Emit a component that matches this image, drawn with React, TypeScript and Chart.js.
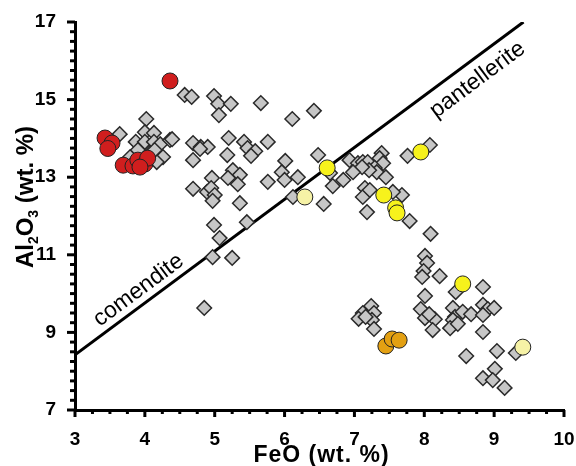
import React, { useEffect, useRef } from 'react';
import { Chart, registerables } from 'chart.js';

Chart.register(...registerables);

// Gray diamonds (whole-rock / glass compilation)
const grayFeO = [
  4.57, 4.67, 4.99, 5.05, 5.23, 5.06, 5.66, 6.11, 6.42, 4.02, 3.64, 4.00, 4.13, 3.87, 4.00, 4.13,
  4.22, 4.36, 4.69, 4.80, 4.90, 4.69, 4.26, 4.17, 3.79, 5.20, 5.42, 5.47, 5.58, 5.52, 5.76, 5.18,
  6.01, 6.48, 5.26, 5.36, 4.96, 5.96, 6.19, 4.69, 4.89, 4.95, 5.00, 4.97, 5.19, 5.33, 5.76, 6.00,
  5.36, 4.99, 5.46, 5.07, 4.97, 5.25, 4.85, 6.12, 6.56, 6.69, 6.93, 7.05, 7.12, 7.19, 7.39, 7.36,
  7.41, 7.29, 7.32, 7.45, 7.21, 7.11, 6.98, 6.84, 6.65, 7.15, 7.12, 7.22, 7.68, 7.55, 7.18, 7.79,
  8.09, 7.76, 8.08, 8.01, 8.04, 7.99, 7.97, 8.22, 8.45, 8.84, 8.01, 7.95, 8.01, 8.15, 8.12, 8.07,
  8.41, 8.44, 8.55, 8.67, 8.41, 8.37, 8.48, 8.84, 8.91, 9.00, 8.84, 8.84, 7.24, 7.12, 7.06, 7.28,
  7.25, 7.28, 7.16, 8.60, 9.04, 9.01, 8.84, 8.98, 9.15, 9.31, 4.39, 4.79, 3.90, 4.07, 4.14,
];
const grayAl2O3 = [
  15.12, 15.07, 15.09, 14.89, 14.89, 14.60, 14.91, 14.50, 14.71, 14.50, 14.11, 14.16, 14.14, 13.91, 13.91, 13.91,
  13.85, 13.96, 13.88, 13.78, 13.78, 13.44, 13.52, 13.39, 13.52, 14.01, 13.91, 13.75, 13.67, 13.55, 13.91, 13.57,
  13.42, 13.57, 13.18, 13.06, 12.98, 13.13, 13.00, 12.70, 12.62, 12.72, 12.54, 12.39, 12.98, 12.82, 12.88, 12.93,
  12.33, 11.77, 11.84, 11.43, 10.94, 10.92, 9.63, 12.49, 12.31, 12.77, 13.44, 13.36, 13.39, 13.39, 13.62, 13.49,
  13.36, 13.24, 13.13, 13.00, 13.18, 13.26, 13.13, 12.93, 13.11, 12.72, 12.49, 12.67, 12.54, 12.62, 12.10, 11.87,
  11.54, 13.55, 13.83, 10.97, 10.79, 10.58, 10.43, 10.45, 10.04, 10.17, 9.94, 9.60, 9.37, 9.34, 9.06, 9.47,
  9.63, 9.40, 9.53, 9.47, 9.32, 9.11, 9.22, 9.71, 9.60, 9.63, 9.45, 9.01, 9.68, 9.50, 9.35, 9.50,
  9.32, 9.09, 9.40, 8.39, 8.52, 8.06, 7.82, 7.77, 7.57, 8.47, 13.98, 13.73, 13.70, 13.62, 13.70,
];

// Red circles
const redFeO = [4.36, 3.43, 3.53, 3.47, 3.69, 3.83, 3.90, 4.00, 4.04, 3.93];
const redAl2O3 = [15.48, 14.01, 13.88, 13.74, 13.31, 13.29, 13.44, 13.34, 13.49, 13.26];

// Yellow circles
const yellowFeO = [6.61, 7.42, 7.59, 7.61, 7.95, 8.55];
const yellowAl2O3 = [13.24, 12.54, 12.21, 12.08, 13.65, 10.25];

// Pale yellow circles
const paleFeO = [6.29, 9.41];
const paleAl2O3 = [12.49, 8.62];

// Orange circles
const orangeFeO = [7.45, 7.54, 7.64];
const orangeAl2O3 = [8.65, 8.83, 8.80];

// Comendite / pantellerite boundary
const boundaryFeO = [3, 9.42];
const boundaryAl2O3 = [8.42, 17];

const xMin = 3, xMax = 10, yMin = 7, yMax = 17;
const xTitle = 'FeO (wt. %)';
const fieldLabels = ['comendite', 'pantellerite'];

const pts = (xs: number[], ys: number[]) => xs.map((x, i) => ({ x, y: ys[i] }));

export default function App() {
  const ref = useRef<HTMLCanvasElement>(null);

  useEffect(() => {
    if (!ref.current) return;
    const FONT = '"Liberation Sans", Arial, sans-serif';

    const decor = {
      id: 'decor',
      afterDraw(chart: any) {
        const ctx = chart.ctx as CanvasRenderingContext2D;
        const xs = chart.scales.x;
        const ys = chart.scales.y;
        const { left, bottom } = chart.chartArea;
        ctx.save();
        ctx.strokeStyle = '#000';
        ctx.lineWidth = 3;
        ctx.lineCap = 'butt';
        // x ticks
        for (let k = 0; k <= (xMax - xMin) * 4; k++) {
          const v = xMin + k * 0.25;
          const px = xs.getPixelForValue(v);
          const major = k % 4 === 0;
          ctx.beginPath();
          ctx.moveTo(px, bottom);
          ctx.lineTo(px, bottom + (major ? 7 : 4));
          ctx.stroke();
        }
        // y ticks
        for (let k = 0; k <= (yMax - yMin) * 4; k++) {
          const v = yMin + k * 0.25;
          const py = ys.getPixelForValue(v);
          const major = k % 8 === 0;
          ctx.beginPath();
          ctx.moveTo(left, py);
          ctx.lineTo(left - (major ? 8 : 5), py);
          ctx.stroke();
        }

        // x title
        ctx.fillStyle = '#000';
        ctx.font = `bold 23px ${FONT}`;
        (ctx as any).letterSpacing = '1px';
        ctx.textAlign = 'center';
        ctx.textBaseline = 'alphabetic';
        ctx.fillText(xTitle, (xs.left + xs.right) / 2 + 2, 462);
        (ctx as any).letterSpacing = '0px';

        // y title with subscripts
        const big = `bold 24px ${FONT}`;
        const small = `bold 14px ${FONT}`;
        const parts: [string, boolean][] = [['Al', false], ['2', true], ['O', false], ['3', true], [' (wt. %)', false]];
        let total = 0;
        for (const [t, sub] of parts) { ctx.font = sub ? small : big; total += ctx.measureText(t).width; }
        ctx.save();
        ctx.translate(33, 197);
        ctx.rotate(-Math.PI / 2);
        ctx.textAlign = 'left';
        let cx = -total / 2;
        for (const [t, sub] of parts) {
          ctx.font = sub ? small : big;
          ctx.fillText(t, cx, sub ? 5 : 0);
          cx += ctx.measureText(t).width;
        }
        ctx.restore();

        // field labels along the boundary
        const p0x = xs.getPixelForValue(boundaryFeO[0]);
        const p0y = ys.getPixelForValue(boundaryAl2O3[0]);
        const p1x = xs.getPixelForValue(boundaryFeO[1]);
        const p1y = ys.getPixelForValue(boundaryAl2O3[1]);
        const ang = Math.atan2(p1y - p0y, p1x - p0x);
        const slope = (boundaryAl2O3[1] - boundaryAl2O3[0]) / (boundaryFeO[1] - boundaryFeO[0]);
        const drawAlong = (text: string, feo: number, off: number) => {
          const lx = xs.getPixelForValue(feo);
          const ly = ys.getPixelForValue(boundaryAl2O3[0] + (feo - boundaryFeO[0]) * slope);
          // unit normal pointing below-right of the line
          const nx = -Math.sin(ang);
          const ny = Math.cos(ang);
          ctx.save();
          ctx.translate(lx + nx * off, ly + ny * off);
          ctx.rotate(ang);
          ctx.font = `23px ${FONT}`;
          ctx.textAlign = 'center';
          ctx.textBaseline = 'middle';
          ctx.fillText(text, 0, 0);
          ctx.restore();
        };
        drawAlong(fieldLabels[0], 4.03, -14);
        drawAlong(fieldLabels[1], 8.6, 19);
        ctx.restore();
      },
    };

    const circle = (data: any[], color: string) => ({
      type: 'scatter' as const,
      data,
      pointStyle: 'circle',
      pointRadius: 8,
      backgroundColor: color,
      borderColor: '#222',
      borderWidth: 1,
    });

    const chart = new Chart(ref.current, {
      type: 'scatter',
      data: {
        datasets: [
          circle(pts(yellowFeO, yellowAl2O3), '#f7f21c'),
          circle(pts(paleFeO, paleAl2O3), '#f6f2a6'),
          circle(pts(orangeFeO, orangeAl2O3), '#e3a012'),
          circle(pts(redFeO, redAl2O3), '#d01e1e'),
          {
            type: 'scatter',
            data: pts(grayFeO, grayAl2O3),
            pointStyle: 'rectRot',
            pointRadius: 7.3,
            backgroundColor: '#c6c6c6',
            borderColor: '#2a2a2a',
            borderWidth: 1.5,
          },
          {
            type: 'line',
            data: pts(boundaryFeO, boundaryAl2O3),
            borderColor: '#000',
            borderWidth: 3,
            pointRadius: 0,
            showLine: true,
            fill: false,
          },
        ] as any,
      },
      options: {
        responsive: false,
        animation: false,
        events: [],
        layout: { padding: { top: 22, right: 12, left: 0, bottom: 0 } },
        plugins: { legend: { display: false }, tooltip: { enabled: false } },
        scales: {
          x: {
            type: 'linear',
            min: xMin,
            max: xMax,
            afterFit: (s: any) => { s.height = 56; s.paddingLeft = 0; s.paddingRight = 0; },
            grid: { display: false, drawTicks: false },
            border: { display: true, color: '#000', width: 3 },
            ticks: {
              stepSize: 1,
              padding: 18,
              color: '#000',
              maxRotation: 0,
              autoSkip: false,
              font: { family: FONT, size: 19, weight: 'bold' },
              callback: (v: any) => String(v),
            },
          },
          y: {
            type: 'linear',
            min: yMin,
            max: yMax,
            afterFit: (s: any) => { s.width = 75; s.paddingTop = 0; s.paddingBottom = 0; },
            grid: { display: false, drawTicks: false },
            border: { display: true, color: '#000', width: 3 },
            ticks: {
              stepSize: 1,
              padding: 19,
              color: '#000',
              autoSkip: false,
              font: { family: FONT, size: 19, weight: 'bold' },
              callback: (v: any) => (Number(v) % 2 === 1 ? String(v) : ''),
            },
          },
        },
      },
      plugins: [decor],
    });
    return () => chart.destroy();
  }, []);

  return (
    <div style={{ position: 'fixed', left: 0, top: 0, width: 576, height: 466, background: '#fff' }}>
      <canvas ref={ref} width={576} height={466} style={{ display: 'block' }} />
    </div>
  );
}
